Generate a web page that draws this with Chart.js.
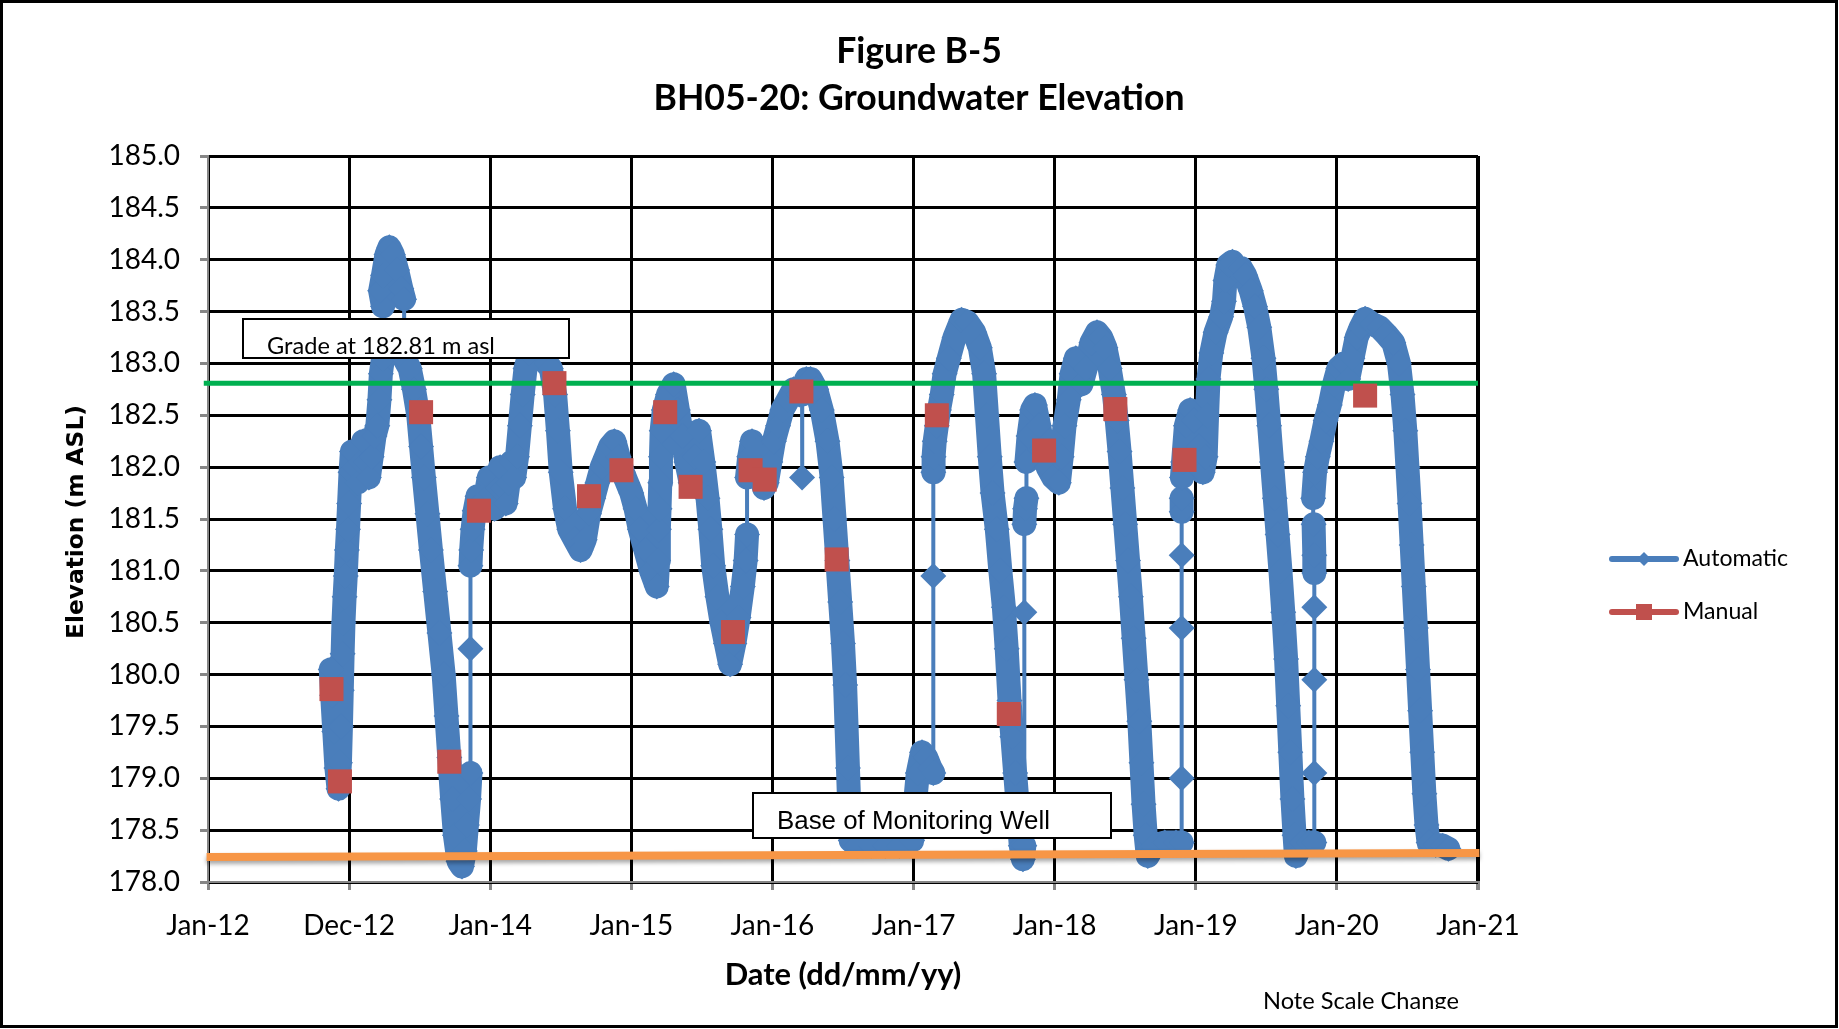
<!DOCTYPE html>
<html>
<head>
<meta charset="utf-8">
<title>Figure B-5 - BH05-20 Groundwater Elevation</title>
<script src="https://cdn.jsdelivr.net/npm/chart.js@4.4.1/dist/chart.umd.min.js"></script>
<style>
  html, body { margin: 0; padding: 0; background: #fff; }
  #wrap { width: 1839px; height: 1029px; }
</style>
</head>
<body>
<div id="wrap"><canvas id="chart" width="1839" height="1029"></canvas></div>
<script>
const X_LABELS = ["Jan-12", "Dec-12", "Jan-14", "Jan-15", "Jan-16", "Jan-17", "Jan-18", "Jan-19", "Jan-20", "Jan-21"];
const X_MIN = 2012, X_MAX = 2021;
const Y_MIN = 178, Y_MAX = 185, Y_STEP = 0.5;

const GRADE_LEVEL = 182.81;
const WELL_BASE   = [178.24, 178.28];   // left end, right end

// logger readings, [decimal year, m asl]
const automatic = [
  [2012.870,180.05],[2012.880,179.80],[2012.895,179.45],[2012.910,179.10],[2012.925,178.90],[2012.935,179.15],
  [2012.942,179.50],[2012.948,179.85],[2012.954,180.20],[2012.960,180.50],[2012.968,180.75],[2012.976,180.95],
  [2012.984,181.20],[2012.992,181.40],[2013.000,181.65],[2013.010,181.95],[2013.020,182.15],[2013.040,182.00],
  [2013.060,181.85],[2013.080,182.05],[2013.100,182.25],[2013.120,182.05],[2013.140,181.90],[2013.160,182.10],
  [2013.180,182.30],[2013.200,182.40],[2013.215,182.65],[2013.225,182.90],[2013.240,183.05],[2013.240,183.55],
  [2013.220,183.70],[2013.240,183.85],[2013.265,184.05],[2013.285,184.12],[2013.310,184.05],[2013.340,183.90],
  [2013.370,183.72],[2013.390,183.62],[2013.390,183.05],[2013.430,182.95],[2013.460,182.75],[2013.490,182.50],
  [2013.510,182.20],[2013.530,181.90],[2013.555,181.55],[2013.580,181.20],[2013.610,180.80],[2013.640,180.40],
  [2013.670,180.00],[2013.690,179.60],[2013.710,179.20],[2013.730,178.80],[2013.750,178.45],[2013.775,178.20],
  [2013.800,178.15],[2013.820,178.30],[2013.835,178.55],[2013.850,178.80],[2013.860,179.05],[2013.860,180.25],
  [2013.860,181.05],[2013.865,181.20],[2013.875,181.40],[2013.890,181.58],[2013.910,181.72],[2013.930,181.65],
  [2013.950,181.60],[2013.970,181.75],[2013.990,181.90],[2014.010,181.75],[2014.030,181.60],[2014.050,181.80],
  [2014.070,182.00],[2014.090,181.80],[2014.110,181.65],[2014.130,181.85],[2014.150,182.05],[2014.170,181.90],
  [2014.190,182.10],[2014.210,182.40],[2014.230,182.70],[2014.250,182.95],[2014.280,183.10],[2014.320,183.15],
  [2014.360,183.10],[2014.400,183.00],[2014.430,182.95],[2014.460,182.70],[2014.480,182.35],[2014.500,181.95],
  [2014.530,181.60],[2014.560,181.40],[2014.600,181.30],[2014.640,181.20],[2014.670,181.30],[2014.700,181.55],
  [2014.730,181.70],[2014.760,181.85],[2014.790,182.00],[2014.820,182.10],[2014.850,182.20],[2014.880,182.25],
  [2014.910,182.10],[2014.940,181.95],[2014.970,181.85],[2015.000,181.75],[2015.030,181.60],[2015.060,181.40],
  [2015.100,181.20],[2015.140,181.00],[2015.180,180.85],[2015.190,181.10],[2015.195,181.40],[2015.200,181.60],
  [2015.205,181.85],[2015.210,182.10],[2015.215,182.35],[2015.230,182.55],[2015.260,182.70],[2015.300,182.80],
  [2015.330,182.55],[2015.360,182.30],[2015.390,182.05],[2015.420,181.85],[2015.450,182.10],[2015.480,182.35],
  [2015.510,182.05],[2015.540,181.70],[2015.560,181.40],[2015.580,181.05],[2015.610,180.75],[2015.640,180.50],
  [2015.670,180.30],[2015.700,180.10],[2015.730,180.30],[2015.760,180.55],[2015.790,180.85],[2015.810,181.10],
  [2015.820,181.35],[2015.820,181.90],[2015.835,182.10],[2015.855,182.25],[2015.880,182.15],[2015.910,182.00],
  [2015.940,181.80],[2015.960,181.85],[2015.985,182.05],[2016.010,182.25],[2016.040,182.40],[2016.070,182.55],
  [2016.110,182.65],[2016.150,182.75],[2016.190,182.70],[2016.210,182.70],[2016.210,181.90],[2016.212,182.75],
  [2016.240,182.85],[2016.270,182.85],[2016.310,182.75],[2016.350,182.55],[2016.390,182.25],[2016.420,181.90],
  [2016.440,181.50],[2016.460,181.10],[2016.480,180.70],[2016.500,180.30],[2016.515,179.90],[2016.525,179.50],
  [2016.535,179.10],[2016.545,178.70],[2016.555,178.40],[2016.600,178.35],[2016.700,178.35],[2016.800,178.35],
  [2016.900,178.35],[2016.990,178.40],[2017.010,178.75],[2017.030,179.05],[2017.060,179.25],[2017.090,179.20],
  [2017.120,179.10],[2017.140,179.05],[2017.140,180.95],[2017.140,181.95],[2017.142,182.10],[2017.150,182.25],
  [2017.165,182.40],[2017.180,182.55],[2017.200,182.70],[2017.220,182.90],[2017.250,183.05],[2017.290,183.25],
  [2017.340,183.42],[2017.380,183.40],[2017.430,183.30],[2017.470,183.15],[2017.500,182.90],[2017.520,182.50],
  [2017.540,182.10],[2017.560,181.75],[2017.590,181.40],[2017.615,181.00],[2017.640,180.65],[2017.660,180.25],
  [2017.680,179.75],[2017.700,179.40],[2017.720,179.05],[2017.740,178.70],[2017.760,178.35],[2017.775,178.22],
  [2017.785,178.35],[2017.785,180.60],[2017.785,181.45],[2017.790,181.60],[2017.800,181.70],[2017.800,182.05],
  [2017.815,182.30],[2017.840,182.55],[2017.860,182.60],[2017.890,182.40],[2017.920,182.15],[2017.950,182.00],
  [2017.990,181.90],[2018.030,181.85],[2018.050,182.10],[2018.070,182.40],[2018.100,182.65],[2018.120,182.90],
  [2018.150,183.05],[2018.190,182.80],[2018.220,182.95],[2018.260,183.20],[2018.300,183.30],[2018.330,183.25],
  [2018.360,183.15],[2018.390,182.95],[2018.420,182.70],[2018.440,182.45],[2018.460,182.15],[2018.480,181.80],
  [2018.500,181.45],[2018.520,181.10],[2018.540,180.75],[2018.560,180.35],[2018.580,179.95],[2018.600,179.55],
  [2018.615,179.15],[2018.630,178.75],[2018.645,178.45],[2018.660,178.25],[2018.700,178.35],[2018.780,178.38],
  [2018.860,178.38],[2018.900,178.38],[2018.900,179.00],[2018.900,180.45],[2018.900,181.15],[2018.900,181.57],
  [2018.900,181.70],[2018.902,181.90],[2018.910,182.05],[2018.930,182.40],[2018.960,182.55],[2018.990,182.45],
  [2019.020,182.20],[2019.050,181.95],[2019.070,182.10],[2019.080,182.50],[2019.090,182.85],[2019.110,183.10],
  [2019.140,183.30],[2019.180,183.45],[2019.200,183.60],[2019.210,183.80],[2019.230,183.95],[2019.260,183.98],
  [2019.290,183.90],[2019.320,183.92],[2019.350,183.85],[2019.390,183.70],[2019.420,183.55],[2019.450,183.35],
  [2019.480,183.05],[2019.500,182.75],[2019.520,182.40],[2019.540,182.05],[2019.560,181.70],[2019.580,181.35],
  [2019.600,181.00],[2019.620,180.60],[2019.640,180.15],[2019.655,179.70],[2019.670,179.25],[2019.685,178.80],
  [2019.700,178.45],[2019.710,178.25],[2019.750,178.38],[2019.800,178.38],[2019.840,178.38],[2019.840,179.05],
  [2019.840,179.95],[2019.840,180.65],[2019.840,180.98],[2019.840,181.15],[2019.835,181.45],[2019.832,181.70],
  [2019.845,181.95],[2019.865,182.10],[2019.890,182.25],[2019.920,182.45],[2019.950,182.60],[2019.980,182.80],
  [2020.010,182.95],[2020.050,183.00],[2020.080,182.85],[2020.110,183.05],[2020.140,183.25],[2020.170,183.35],
  [2020.200,183.43],[2020.250,183.38],[2020.300,183.35],[2020.350,183.28],[2020.400,183.20],[2020.440,183.00],
  [2020.465,182.70],[2020.485,182.35],[2020.500,182.00],[2020.515,181.65],[2020.530,181.25],[2020.545,180.85],
  [2020.560,180.45],[2020.575,180.05],[2020.590,179.65],[2020.605,179.25],[2020.620,178.85],[2020.635,178.55],
  [2020.650,178.38],[2020.700,178.36],[2020.750,178.35],[2020.790,178.32]
];

// hand readings, [decimal year, m asl]
const manual = [
  [2012.875,179.86],[2012.935,178.97],[2013.510,182.53],[2013.710,179.16],[2013.920,181.58],[2014.455,182.81],
  [2014.700,181.72],[2014.930,181.97],[2015.240,182.53],[2015.420,181.81],[2015.720,180.41],[2015.845,181.97],
  [2015.945,181.88],[2016.205,182.73],[2016.455,181.11],[2017.165,182.50],[2017.675,179.62],[2017.925,182.16],
  [2018.430,182.56],[2018.920,182.07],[2020.200,182.69]
];

const BLUE  = "#4A7EBB";
const RED   = "#C0504D";
const GREEN = "#00B050";
const ORANGE = "#F79646";
const AXIS_GREY = "#868686";

const toXY = rows => rows.map(([x, y]) => ({ x, y }));

// the logger trace is a dense band; near-vertical jumps between readings stay thin
function traceWidth(c) {
  const dx = Math.abs(c.p1.x - c.p0.x);
  const dy = Math.abs(c.p1.y - c.p0.y);
  return dx < 0.5 && dy > 20 ? 4 : 24;
}

function fitFont(ctx, text, weight, family, width) {
  ctx.font = `${weight} 100px ${family}`;
  const size = 100 * width / ctx.measureText(text).width;
  return `${weight} ${size.toFixed(1)}px ${family}`;
}

const lineShadow = {
  id: "lineShadow",
  beforeDatasetDraw(chart, args) {
    if (chart.data.datasets[args.index].label !== "Base of Monitoring Well") return;
    const ctx = chart.ctx;
    ctx.save();
    ctx.shadowColor = "rgba(0,0,0,0.35)";
    ctx.shadowBlur = 4;
    ctx.shadowOffsetY = 3;
  },
  afterDatasetDraw(chart, args) {
    if (chart.data.datasets[args.index].label !== "Base of Monitoring Well") return;
    chart.ctx.restore();
  }
};

const overlay = {
  id: "overlay",
  afterDraw(chart) {
    const ctx = chart.ctx;
    ctx.save();
    ctx.fillStyle = "#000";

    // title
    ctx.textAlign = "center";
    ctx.textBaseline = "middle";
    ctx.font = fitFont(ctx, "BH05-20: Groundwater Elevation", "bold", "Lato", 531);
    ctx.fillText("Figure B-5", 919, 52);
    ctx.fillText("BH05-20: Groundwater Elevation", 919, 99);

    // axis titles
    ctx.font = fitFont(ctx, "Date (dd/mm/yy)", "bold", "Lato", 237);
    ctx.fillText("Date (dd/mm/yy)", 843, 975);
    ctx.save();
    ctx.translate(77, 522);
    ctx.rotate(-Math.PI / 2);
    ctx.font = fitFont(ctx, "Elevation (m ASL)", "bold", "'DejaVu Sans'", 234);
    ctx.fillText("Elevation (m ASL)", 0, 0);
    ctx.restore();

    // text boxes
    ctx.lineWidth = 2;
    ctx.strokeStyle = "#000";
    ctx.fillStyle = "#fff";
    ctx.fillRect(243, 319, 326, 39);
    ctx.strokeRect(243, 319, 326, 39);
    ctx.fillRect(753, 793, 358, 45);
    ctx.strokeRect(753, 793, 358, 45);
    ctx.fillStyle = "#000";
    ctx.textAlign = "left";
    ctx.textBaseline = "alphabetic";
    ctx.font = fitFont(ctx, "Grade at 182.81 m asl", "normal", "Lato", 228);
    ctx.fillText("Grade at 182.81 m asl", 267, 354);
    ctx.font = fitFont(ctx, "Base of Monitoring Well", "normal", "'Liberation Sans'", 273);
    ctx.fillText("Base of Monitoring Well", 777, 829);

    // legend
    ctx.lineCap = "round";
    ctx.lineWidth = 6;
    ctx.strokeStyle = BLUE;
    ctx.beginPath(); ctx.moveTo(1612, 559); ctx.lineTo(1676, 559); ctx.stroke();
    ctx.fillStyle = BLUE;
    ctx.beginPath();
    ctx.moveTo(1644, 552); ctx.lineTo(1651, 559); ctx.lineTo(1644, 566); ctx.lineTo(1637, 559);
    ctx.closePath(); ctx.fill();
    ctx.strokeStyle = RED;
    ctx.beginPath(); ctx.moveTo(1612, 612); ctx.lineTo(1676, 612); ctx.stroke();
    ctx.fillStyle = RED;
    ctx.fillRect(1636, 604, 16, 16);
    ctx.fillStyle = "#000";
    ctx.textBaseline = "middle";
    ctx.font = fitFont(ctx, "Automatic", "normal", "Lato", 105);
    ctx.fillText("Automatic", 1683, 559);
    ctx.fillText("Manual", 1683, 612);

    // note, cut off by its frame like in the report
    ctx.save();
    ctx.beginPath(); ctx.rect(1200, 960, 400, 49); ctx.clip();
    ctx.textBaseline = "alphabetic";
    ctx.font = fitFont(ctx, "Note Scale Change", "normal", "Lato", 196);
    ctx.fillText("Note Scale Change", 1263, 1009);
    ctx.restore();

    // outer frame
    ctx.lineWidth = 3;
    ctx.strokeStyle = "#000";
    ctx.strokeRect(1.5, 1.5, 1835, 1025);
    ctx.restore();
  }
};

const tickFont = { family: "Lato", size: 28 };

new Chart(document.getElementById("chart"), {
  type: "line",
  data: {
    datasets: [
      {
        label: "Manual",
        data: toXY(manual),
        showLine: false,
        pointStyle: "rect",
        pointRadius: 17,
        pointBorderWidth: 0,
        pointBackgroundColor: RED,
        borderColor: RED,
        order: 0
      },
      {
        label: "Base of Monitoring Well",
        data: [{ x: X_MIN - 0.01, y: WELL_BASE[0] }, { x: X_MAX + 0.01, y: WELL_BASE[1] }],
        borderColor: ORANGE,
        borderWidth: 8,
        pointRadius: 0,
        clip: false,
        order: 1
      },
      {
        label: "Grade",
        data: [{ x: X_MIN - 0.03, y: GRADE_LEVEL }, { x: X_MAX, y: GRADE_LEVEL }],
        borderColor: GREEN,
        borderWidth: 5,
        pointRadius: 0,
        clip: false,
        order: 2
      },
      {
        label: "Automatic",
        data: toXY(automatic),
        borderColor: BLUE,
        backgroundColor: BLUE,
        borderWidth: 24,
        borderJoinStyle: "round",
        borderCapStyle: "round",
        segment: { borderWidth: traceWidth },
        pointStyle: "rectRot",
        pointRadius: 13,
        pointBorderWidth: 0,
        pointBackgroundColor: BLUE,
        tension: 0,
        order: 3
      }
    ]
  },
  options: {
    responsive: false,
    animation: false,
    events: [],
    layout: { padding: { left: 0, top: 156, right: 361, bottom: 0 } },
    plugins: { legend: { display: false }, tooltip: { enabled: false } },
    scales: {
      x: {
        type: "linear",
        min: X_MIN,
        max: X_MAX,
        afterFit: s => { s.height = 147; },
        ticks: {
          stepSize: 1,
          autoSkip: false,
          maxRotation: 0,
          padding: 19,
          color: "#000",
          font: tickFont,
          callback: (v, i) => X_LABELS[i]
        },
        grid: {
          color: "#000",
          lineWidth: c => (c.index === X_LABELS.length - 1 ? 4 : 3),
          tickColor: AXIS_GREY,
          tickLength: 8
        },
        border: { color: AXIS_GREY, width: 2 }
      },
      y: {
        min: Y_MIN,
        max: Y_MAX,
        afterFit: s => { s.width = 208; },
        ticks: {
          stepSize: Y_STEP,
          padding: 20,
          color: "#000",
          font: tickFont,
          callback: v => Number(v).toFixed(1)
        },
        grid: { color: "#000", lineWidth: 3, tickColor: AXIS_GREY, tickLength: 8 },
        border: { color: AXIS_GREY, width: 2 }
      }
    }
  },
  plugins: [lineShadow, overlay]
});
</script>
</body>
</html>
